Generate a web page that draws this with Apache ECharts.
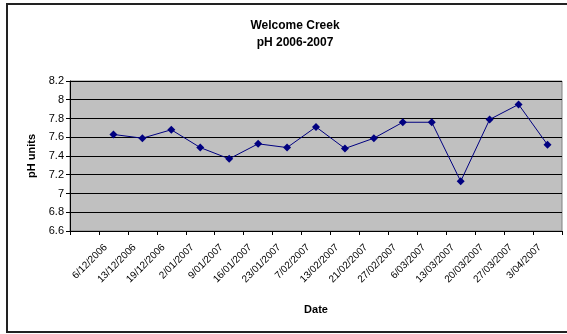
<!DOCTYPE html>
<html>
<head>
<meta charset="utf-8">
<script src="https://cdn.jsdelivr.net/npm/echarts@6/dist/echarts.min.js"></script>
<style>
html,body{margin:0;padding:0;background:#fff;}
#chart{width:567px;height:334px;}
</style>
</head>
<body>
<div id="chart"></div>
<script>
var categories = ['', '6/12/2006', '13/12/2006', '19/12/2006', '2/01/2007', '9/01/2007', '16/01/2007', '23/01/2007', '7/02/2007', '13/02/2007', '21/02/2007', '27/02/2007', '6/03/2007', '13/03/2007', '20/03/2007', '27/03/2007', '3/04/2007'];
var phValues = [null, 7.63, 7.59, 7.68, 7.49, 7.37, 7.53, 7.49, 7.71, 7.48, 7.59, 7.76, 7.76, 7.13, 7.79, 7.95, 7.52];
var yTicks = {min: 6.6, max: 8.2, interval: 0.2};

var chart = echarts.init(document.getElementById('chart'), null, {renderer: 'canvas'});
var font = 'Liberation Sans, Arial, sans-serif';
chart.setOption({
  animation: false,
  backgroundColor: '#fff',
  title: {
    text: 'Welcome Creek\npH 2006-2007',
    left: 290, top: 12, textAlign: 'center',
    textStyle: {fontFamily: font, fontSize: 12, fontWeight: 'bold', color: '#000', lineHeight: 17}
  },
  graphic: [{
    type: 'rect', silent: true,
    shape: {x: 7, y: 4, width: 620, height: 328},
    style: {fill: null, stroke: '#222', lineWidth: 2}
  }],
  grid: {left: 70, right: 5, top: 81, bottom: 103, show: true, backgroundColor: '#C0C0C0', borderColor: '#808080', borderWidth: 1},
  xAxis: {
    type: 'category',
    data: categories,
    boundaryGap: true,
    name: 'Date', nameLocation: 'middle', nameGap: 73,
    nameTextStyle: {fontFamily: font, fontSize: 11, fontWeight: 'bold', color: '#000'},
    axisLine: {lineStyle: {color: '#000', width: 1}},
    axisTick: {show: true, length: 4, lineStyle: {color: '#000'}},
    axisLabel: {rotate: 45, interval: 0, fontFamily: font, fontSize: 10, color: '#000', margin: 7, padding: [0, 11, 0, 0]},
    splitLine: {show: false}
  },
  yAxis: {
    type: 'value',
    min: yTicks.min, max: yTicks.max, interval: yTicks.interval,
    name: 'pH units', nameLocation: 'middle', nameGap: 33, nameRotate: 90,
    nameTextStyle: {fontFamily: font, fontSize: 11, fontWeight: 'bold', color: '#000'},
    axisLine: {show: true, lineStyle: {color: '#000', width: 1}},
    axisTick: {show: true, length: 4, lineStyle: {color: '#000'}},
    axisLabel: {fontFamily: font, fontSize: 11, color: '#000', margin: 6,
      formatter: function (v) { return String(Math.round(v * 10) / 10); }},
    splitLine: {show: true, lineStyle: {color: '#000', width: 1}}
  },
  series: [{
    type: 'line',
    data: phValues,
    connectNulls: false,
    symbol: 'diamond',
    symbolSize: 8,
    itemStyle: {color: '#000080'},
    lineStyle: {color: '#000080', width: 1}
  }]
});
</script>
</body>
</html>
